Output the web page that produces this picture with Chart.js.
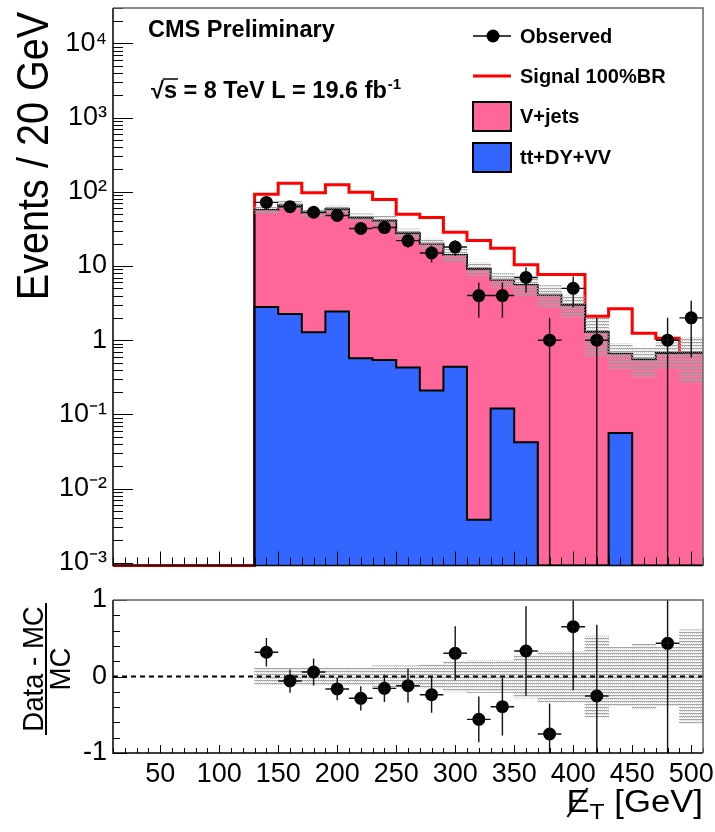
<!DOCTYPE html>
<html><head><meta charset="utf-8">
<script src="https://cdn.jsdelivr.net/npm/chart.js@4.4.1/dist/chart.umd.min.js"></script>
<style>
html,body{margin:0;padding:0;background:#fff;}
#wrap{position:relative;width:715px;height:832px;overflow:hidden;background:#fff;}
#c1{position:absolute;left:0;top:0;}
#c2{position:absolute;left:0;top:572px;background:#fff;}
</style></head><body>
<div id="wrap">
<canvas id="c1" width="715" height="572"></canvas>
<canvas id="c2" width="715" height="260"></canvas>
</div>
<script>
// ---- data ----
const ET_BINS = [140, 160, 180, 200, 220, 240, 260, 280, 300, 320, 340, 360, 380, 400, 420, 440, 460, 480, 500];
const X_TICKS = [50, 100, 150, 200, 250, 300, 350, 400, 450, 500];
const Y_TICKS = [1e-3, 1e-2, 1e-1, 1, 10, 100, 1e3, 1e4];
const RATIO_TICKS = [-1, 0, 1];
const observed    = [72, 63, 53, 48, 32, 33, 22, 15, 18, 4, 4, 7, 1, 5, 1, 0, 0, 1, 2];
const vJets       = [54.2, 64.8, 50.7, 55.6, 44.4, 40.5, 27.1, 19.8, 13.6, 9.2, 6.4, 5.5, 4.1, 3.0, 1.3, 0.6, 0.55, 0.67, 0.68];
const ttDyVv      = [2.8, 2.25, 1.28, 2.43, 0.57, 0.54, 0.43, 0.21, 0.44, 0.0038, 0.12, 0.042, 0, 0, 0, 0.056, 0, 0, 0];
const signal100BR = [93, 130, 97, 124, 99, 79, 50, 45, 28.5, 22, 17.3, 10.4, 7.7, 7.7, 2.1, 2.65, 1.24, 1.06, 0.68];
const ratio       = [0.317, -0.059, 0.059, -0.163, -0.285, -0.155, -0.12, -0.238, 0.303, -0.56, -0.395, 0.333, -0.752, 0.651, -0.255, null, null, 0.434, null];
const ratioErr    = [0.185, 0.152, 0.176, 0.148, 0.159, 0.178, 0.22, 0.235, 0.353, 0.298, 0.375, 0.584, 0.40, 0.83, 0.93, null, null, 1.45, null];
const mcRelUnc    = [0.11, 0.11, 0.12, 0.12, 0.12, 0.14, 0.14, 0.16, 0.2, 0.21, 0.21, 0.28, 0.33, 0.33, 0.53, 0.38, 0.43, 0.38, 0.61];

// ---- axis settings ----
const X_MIN = 10, X_MAX = 510, BIN_W = 20;
const Y_MIN = 9.2e-4, Y_MAX = 3e4;
const PINK = '#FF6699', BLUE = '#3366FF', RED = '#FF0000';
const FONT = '"Liberation Sans", Arial, Helvetica, sans-serif';
const OFF2 = 572; // top of the ratio canvas

Chart.defaults.font.family = FONT;
Chart.defaults.color = '#000';

const total = vJets.map((v, i) => v + ttDyVv[i]);

function stepData(vals, startX) {
  const pts = [];
  const first = ET_BINS[0] - BIN_W / 2;
  pts.push({x: startX, y: Y_MIN});
  pts.push({x: first, y: Y_MIN});
  vals.forEach((v, i) => pts.push({x: ET_BINS[i] - BIN_W / 2, y: v > 0 ? v : Y_MIN}));
  const last = vals[vals.length - 1];
  pts.push({x: ET_BINS[ET_BINS.length - 1] + BIN_W / 2, y: last > 0 ? last : Y_MIN});
  return pts;
}

function makeHatch() {
  const c = document.createElement('canvas');
  c.width = 4; c.height = 3;
  const g = c.getContext('2d');
  g.fillStyle = 'rgba(150,150,150,0.85)';
  g.fillRect(0, 0, 4, 1);
  g.fillStyle = 'rgba(175,175,175,0.6)';
  g.fillRect(0, 1, 1, 1); g.fillRect(2, 1, 1, 1);
  g.fillStyle = 'rgba(200,200,200,0.35)';
  g.fillRect(1, 2, 1, 1); g.fillRect(3, 2, 1, 1);
  return g.createPattern(c, 'repeat');
}
const HATCH = makeHatch();

function supLabel(v) {
  const k = Math.round(Math.log10(v));
  if (k === 0) return '1';
  if (k === 1) return '10';
  const map = {'-': '⁻', '0': '⁰', '1': '¹', '2': '²', '3': '³', '4': '⁴'};
  return '10' + String(k).split('').map(c => map[c]).join('');
}

function txt(ctx, s, x, y, font, align, sx) {
  ctx.save();
  ctx.font = font; ctx.textAlign = align || 'left'; ctx.textBaseline = 'alphabetic';
  ctx.fillStyle = '#000';
  ctx.translate(x, y); ctx.scale(sx || 1, 1);
  ctx.fillText(s, 0, 0);
  ctx.restore();
}

function frame(ctx, a) {
  ctx.save();
  ctx.lineWidth = 1.5;
  ctx.strokeStyle = '#000';
  ctx.beginPath();
  ctx.moveTo(a.left, a.top); ctx.lineTo(a.left, a.bottom); ctx.lineTo(a.right, a.bottom);
  ctx.stroke();
  ctx.strokeStyle = '#666';
  ctx.beginPath();
  ctx.moveTo(a.left, a.top); ctx.lineTo(a.right, a.top); ctx.lineTo(a.right, a.bottom);
  ctx.stroke();
  ctx.restore();
}

// ---- top panel decorations ----
const topDecor = {
  id: 'topDecor',
  afterDatasetsDraw(chart) {
    const {ctx, chartArea: a, scales: {x, y}} = chart;
    // error bars
    ctx.save();
    ctx.beginPath(); ctx.rect(a.left, a.top, a.right - a.left, a.bottom - a.top); ctx.clip();
    ctx.strokeStyle = '#111'; ctx.lineWidth = 1.4;
    ET_BINS.forEach((c, i) => {
      const n = observed[i];
      if (!(n > 0)) return;
      const e = Math.sqrt(n);
      const px = x.getPixelForValue(c), py = y.getPixelForValue(n);
      const lo = n - e > 0 ? y.getPixelForValue(n - e) : a.bottom;
      const hi = y.getPixelForValue(n + e);
      ctx.beginPath();
      ctx.moveTo(px, hi); ctx.lineTo(px, lo);
      ctx.moveTo(x.getPixelForValue(c - BIN_W / 2), py); ctx.lineTo(x.getPixelForValue(c + BIN_W / 2), py);
      ctx.stroke();
    });
    ctx.restore();
    // ticks
    ctx.save();
    ctx.strokeStyle = '#000'; ctx.lineWidth = 1;
    ctx.beginPath();
    for (let k = -4; k <= 4; k++) {
      for (let m = 1; m <= 9; m++) {
        const v = m * Math.pow(10, k);
        if (v < Y_MIN || v > Y_MAX) continue;
        const py = Math.round(y.getPixelForValue(v)) + 0.5;
        ctx.moveTo(a.left, py); ctx.lineTo(a.left + (m === 1 ? 20 : 10), py);
      }
    }
    for (let v = X_MIN; v <= X_MAX; v += 10) {
      const px = Math.round(x.getPixelForValue(v)) + 0.5;
      ctx.moveTo(px, a.bottom); ctx.lineTo(px, a.bottom - (v % 50 === 0 ? 14 : 8));
    }
    ctx.stroke();
    ctx.restore();
    frame(ctx, a);
  },
  afterDraw(chart) {
    const ctx = chart.ctx;
    // y title (slightly condensed like the reference)
    ctx.save();
    ctx.translate(48, 156); ctx.rotate(-Math.PI / 2); ctx.scale(0.9, 1);
    ctx.font = '44px ' + FONT; ctx.textAlign = 'center'; ctx.textBaseline = 'alphabetic'; ctx.fillStyle = '#000';
    ctx.fillText('Events / 20 GeV', 0, 0);
    ctx.restore();
    // CMS texts
    const B23 = 'bold 23.5px ' + FONT;
    txt(ctx, 'CMS Preliminary', 148, 37, B23);
    ctx.save();
    ctx.font = B23;
    const x0 = 151, yb = 98;
    const wr = ctx.measureText('√').width;
    const ws = ctx.measureText('s').width;
    const wMain = ctx.measureText('s = 8 TeV L = 19.6 fb').width;
    ctx.restore();
    txt(ctx, '√', x0, yb, B23);
    txt(ctx, 's = 8 TeV L = 19.6 fb', x0 + wr, yb, B23);
    ctx.save();
    ctx.strokeStyle = '#000'; ctx.lineWidth = 1.5;
    ctx.beginPath(); ctx.moveTo(x0 + wr - 1, yb - 19); ctx.lineTo(x0 + wr + ws + 1, yb - 19); ctx.stroke();
    ctx.restore();
    txt(ctx, '-1', x0 + wr + wMain + 1, yb - 9, 'bold 15px ' + FONT);
    // legend
    const LB = 'bold 20px ' + FONT;
    ctx.save();
    ctx.strokeStyle = '#000'; ctx.lineWidth = 1.5;
    ctx.beginPath(); ctx.moveTo(473, 36); ctx.lineTo(511, 36); ctx.stroke();
    ctx.fillStyle = '#000'; ctx.beginPath(); ctx.arc(493, 36, 6.5, 0, Math.PI * 2); ctx.fill();
    ctx.strokeStyle = RED; ctx.lineWidth = 3;
    ctx.beginPath(); ctx.moveTo(473, 76); ctx.lineTo(511, 76); ctx.stroke();
    ctx.lineWidth = 2; ctx.strokeStyle = '#000';
    ctx.fillStyle = PINK; ctx.fillRect(473, 102, 38, 29); ctx.strokeRect(473, 102, 38, 29);
    ctx.fillStyle = BLUE; ctx.fillRect(473, 143, 38, 29); ctx.strokeRect(473, 143, 38, 29);
    ctx.restore();
    txt(ctx, 'Observed', 520, 43, LB);
    txt(ctx, 'Signal 100%BR', 520, 83, LB);
    txt(ctx, 'V+jets', 520, 123, LB);
    txt(ctx, 'tt+DY+VV', 520, 164, LB);
  }
};

const chart1 = new Chart(document.getElementById('c1'), {
  type: 'line',
  data: {
    datasets: [
      {
        type: 'line', label: 'Observed', order: 0,
        data: ET_BINS.map((x, i) => ({x, y: observed[i] > 0 ? observed[i] : null})),
        showLine: false, pointRadius: 6.5, pointBackgroundColor: '#000', pointBorderWidth: 0
      },
      {
        type: 'bar', label: 'MC uncertainty', order: 1,
        data: ET_BINS.map((x, i) => ({x, y: [total[i] * (1 - mcRelUnc[i]), total[i] * (1 + mcRelUnc[i])]})),
        backgroundColor: HATCH, borderWidth: 0, barPercentage: 1, categoryPercentage: 1
      },
      {
        type: 'line', label: 'tt+DY+VV', order: 2,
        data: stepData(ttDyVv, ET_BINS[0] - BIN_W / 2), stepped: true,
        borderColor: '#000', borderWidth: 2, backgroundColor: BLUE, fill: 'start', pointRadius: 0
      },
      {
        type: 'line', label: 'V+jets', order: 3,
        data: stepData(total, ET_BINS[0] - BIN_W / 2), stepped: true,
        borderColor: '#000', borderWidth: 2, backgroundColor: PINK, fill: 'start', pointRadius: 0
      },
      {
        type: 'line', label: 'Signal 100%BR', order: 4,
        data: stepData(signal100BR, X_MIN), stepped: true,
        borderColor: RED, borderWidth: 3, pointRadius: 0, fill: false, clip: 4
      }
    ]
  },
  options: {
    responsive: false, animation: false, events: [],
    layout: {padding: {top: 8, right: 12, bottom: 6, left: 0}},
    plugins: {legend: {display: false}, tooltip: {enabled: false}},
    scales: {
      x: {
        type: 'linear', min: X_MIN, max: X_MAX, offset: false, display: false, bounds: 'data',
        grid: {display: false, offset: false}
      },
      y: {
        type: 'logarithmic', min: Y_MIN, max: Y_MAX, bounds: 'data',
        grid: {display: false, drawTicks: false}, border: {display: false},
        afterBuildTicks: s => { s.ticks = Y_TICKS.map(v => ({value: v})); },
        afterFit: s => { s.width = 113; s.paddingTop = 0; s.paddingBottom = 0; },
        ticks: {autoSkip: false, padding: 6, font: {size: 27}, color: '#000', callback: v => supLabel(v)}
      }
    }
  },
  plugins: [topDecor]
});

// ---- ratio panel ----
const ratioDecor = {
  id: 'ratioDecor',
  beforeDatasetDraw(chart, args) {
    if (args.index !== 0) return;
    const {ctx, chartArea: a, scales: {y}} = chart;
    const py = y.getPixelForValue(0);
    ctx.save();
    ctx.strokeStyle = '#000'; ctx.lineWidth = 2; ctx.setLineDash([5, 4]);
    ctx.beginPath(); ctx.moveTo(a.left, py); ctx.lineTo(a.right, py); ctx.stroke();
    ctx.restore();
  },
  afterDatasetsDraw(chart) {
    const {ctx, chartArea: a, scales: {x, y}} = chart;
    ctx.save();
    ctx.beginPath(); ctx.rect(a.left, a.top, a.right - a.left, a.bottom - a.top); ctx.clip();
    ctx.strokeStyle = '#111'; ctx.lineWidth = 1.4;
    ET_BINS.forEach((c, i) => {
      const r = ratio[i];
      if (r === null) return;
      const e = ratioErr[i];
      const px = x.getPixelForValue(c), py = y.getPixelForValue(r);
      ctx.beginPath();
      ctx.moveTo(px, y.getPixelForValue(r + e)); ctx.lineTo(px, y.getPixelForValue(r - e));
      ctx.moveTo(x.getPixelForValue(c - BIN_W / 2), py); ctx.lineTo(x.getPixelForValue(c + BIN_W / 2), py);
      ctx.stroke();
    });
    ctx.restore();
    ctx.save();
    ctx.strokeStyle = '#000'; ctx.lineWidth = 1;
    ctx.beginPath();
    for (let i = -5; i <= 5; i++) {
      const py = Math.round(y.getPixelForValue(i / 5)) + 0.5;
      ctx.moveTo(a.left, py); ctx.lineTo(a.left + (i % 5 === 0 ? 14 : 7), py);
    }
    for (let v = X_MIN; v <= X_MAX; v += 10) {
      const px = Math.round(x.getPixelForValue(v)) + 0.5;
      ctx.moveTo(px, a.bottom); ctx.lineTo(px, a.bottom - (v % 50 === 0 ? 8 : 5));
    }
    ctx.stroke();
    ctx.restore();
    frame(ctx, a);
  },
  afterDraw(chart) {
    const ctx = chart.ctx;
    // ratio y title
    ctx.save();
    ctx.translate(0, 669 - OFF2); ctx.rotate(-Math.PI / 2);
    ctx.font = '29px ' + FONT; ctx.textAlign = 'center'; ctx.textBaseline = 'alphabetic'; ctx.fillStyle = '#000';
    ctx.save(); ctx.scale(0.95, 1);
    ctx.fillText('Data - MC', 0, 43);
    ctx.fillText('MC', 0, 70);
    ctx.restore();
    ctx.fillRect(-66, 45, 132, 2);
    ctx.restore();
    // x title: missing ET
    const F = '31px ' + FONT;
    ctx.save();
    ctx.font = F;
    const sx = 1.12;
    const wGeV = ctx.measureText(' [GeV]').width * sx;
    const xr = 703;
    const xG = xr - wGeV;
    ctx.font = '22px ' + FONT;
    const wT = ctx.measureText('T').width * sx;
    ctx.font = F;
    const wE = ctx.measureText('E').width * sx;
    const xE = xG - wT - wE;
    const yb = 812 - OFF2;
    txt(ctx, 'E', xE, yb, F, 'left', sx);
    txt(ctx, 'T', xE + wE, yb + 7, '22px ' + FONT, 'left', sx);
    txt(ctx, ' [GeV]', xG, yb, F, 'left', sx);
    ctx.strokeStyle = '#000'; ctx.lineWidth = 2;
    ctx.beginPath(); ctx.moveTo(xE + 1, yb + 5); ctx.lineTo(xE + wE - 2, yb - 24); ctx.stroke();
    ctx.restore();
  }
};

const chart2 = new Chart(document.getElementById('c2'), {
  type: 'line',
  data: {
    datasets: [
      {
        type: 'line', label: 'Data/MC', order: 0,
        data: ET_BINS.map((x, i) => ({x, y: ratio[i]})),
        showLine: false, pointRadius: 6.5, pointBackgroundColor: '#000', pointBorderWidth: 0
      },
      {
        type: 'bar', label: 'MC uncertainty', order: 1,
        data: ET_BINS.map((x, i) => ({x, y: [-mcRelUnc[i], mcRelUnc[i]]})),
        backgroundColor: HATCH, borderWidth: 0, barPercentage: 1, categoryPercentage: 1
      }
    ]
  },
  options: {
    responsive: false, animation: false, events: [],
    layout: {padding: {top: 600 - OFF2, right: 12, bottom: 0, left: 0}},
    plugins: {legend: {display: false}, tooltip: {enabled: false}},
    scales: {
      x: {
        type: 'linear', min: X_MIN, max: X_MAX, offset: false, bounds: 'data',
        grid: {display: false, drawTicks: false, offset: false}, border: {display: false},
        afterBuildTicks: s => { s.ticks = X_TICKS.map(v => ({value: v})); },
        afterFit: s => { s.height = 79; s.paddingLeft = 0; s.paddingRight = 0; },
        ticks: {autoSkip: false, maxRotation: 0, padding: 5, font: {size: 27}, color: '#000'}
      },
      y: {
        type: 'linear', min: -1, max: 1, bounds: 'data',
        grid: {display: false, drawTicks: false}, border: {display: false},
        afterBuildTicks: s => { s.ticks = RATIO_TICKS.map(v => ({value: v})); },
        afterFit: s => { s.width = 113; s.paddingTop = 0; s.paddingBottom = 0; },
        ticks: {autoSkip: false, padding: 6, font: {size: 27}, color: '#000'}
      }
    }
  },
  plugins: [ratioDecor]
});
</script>
</body></html>
